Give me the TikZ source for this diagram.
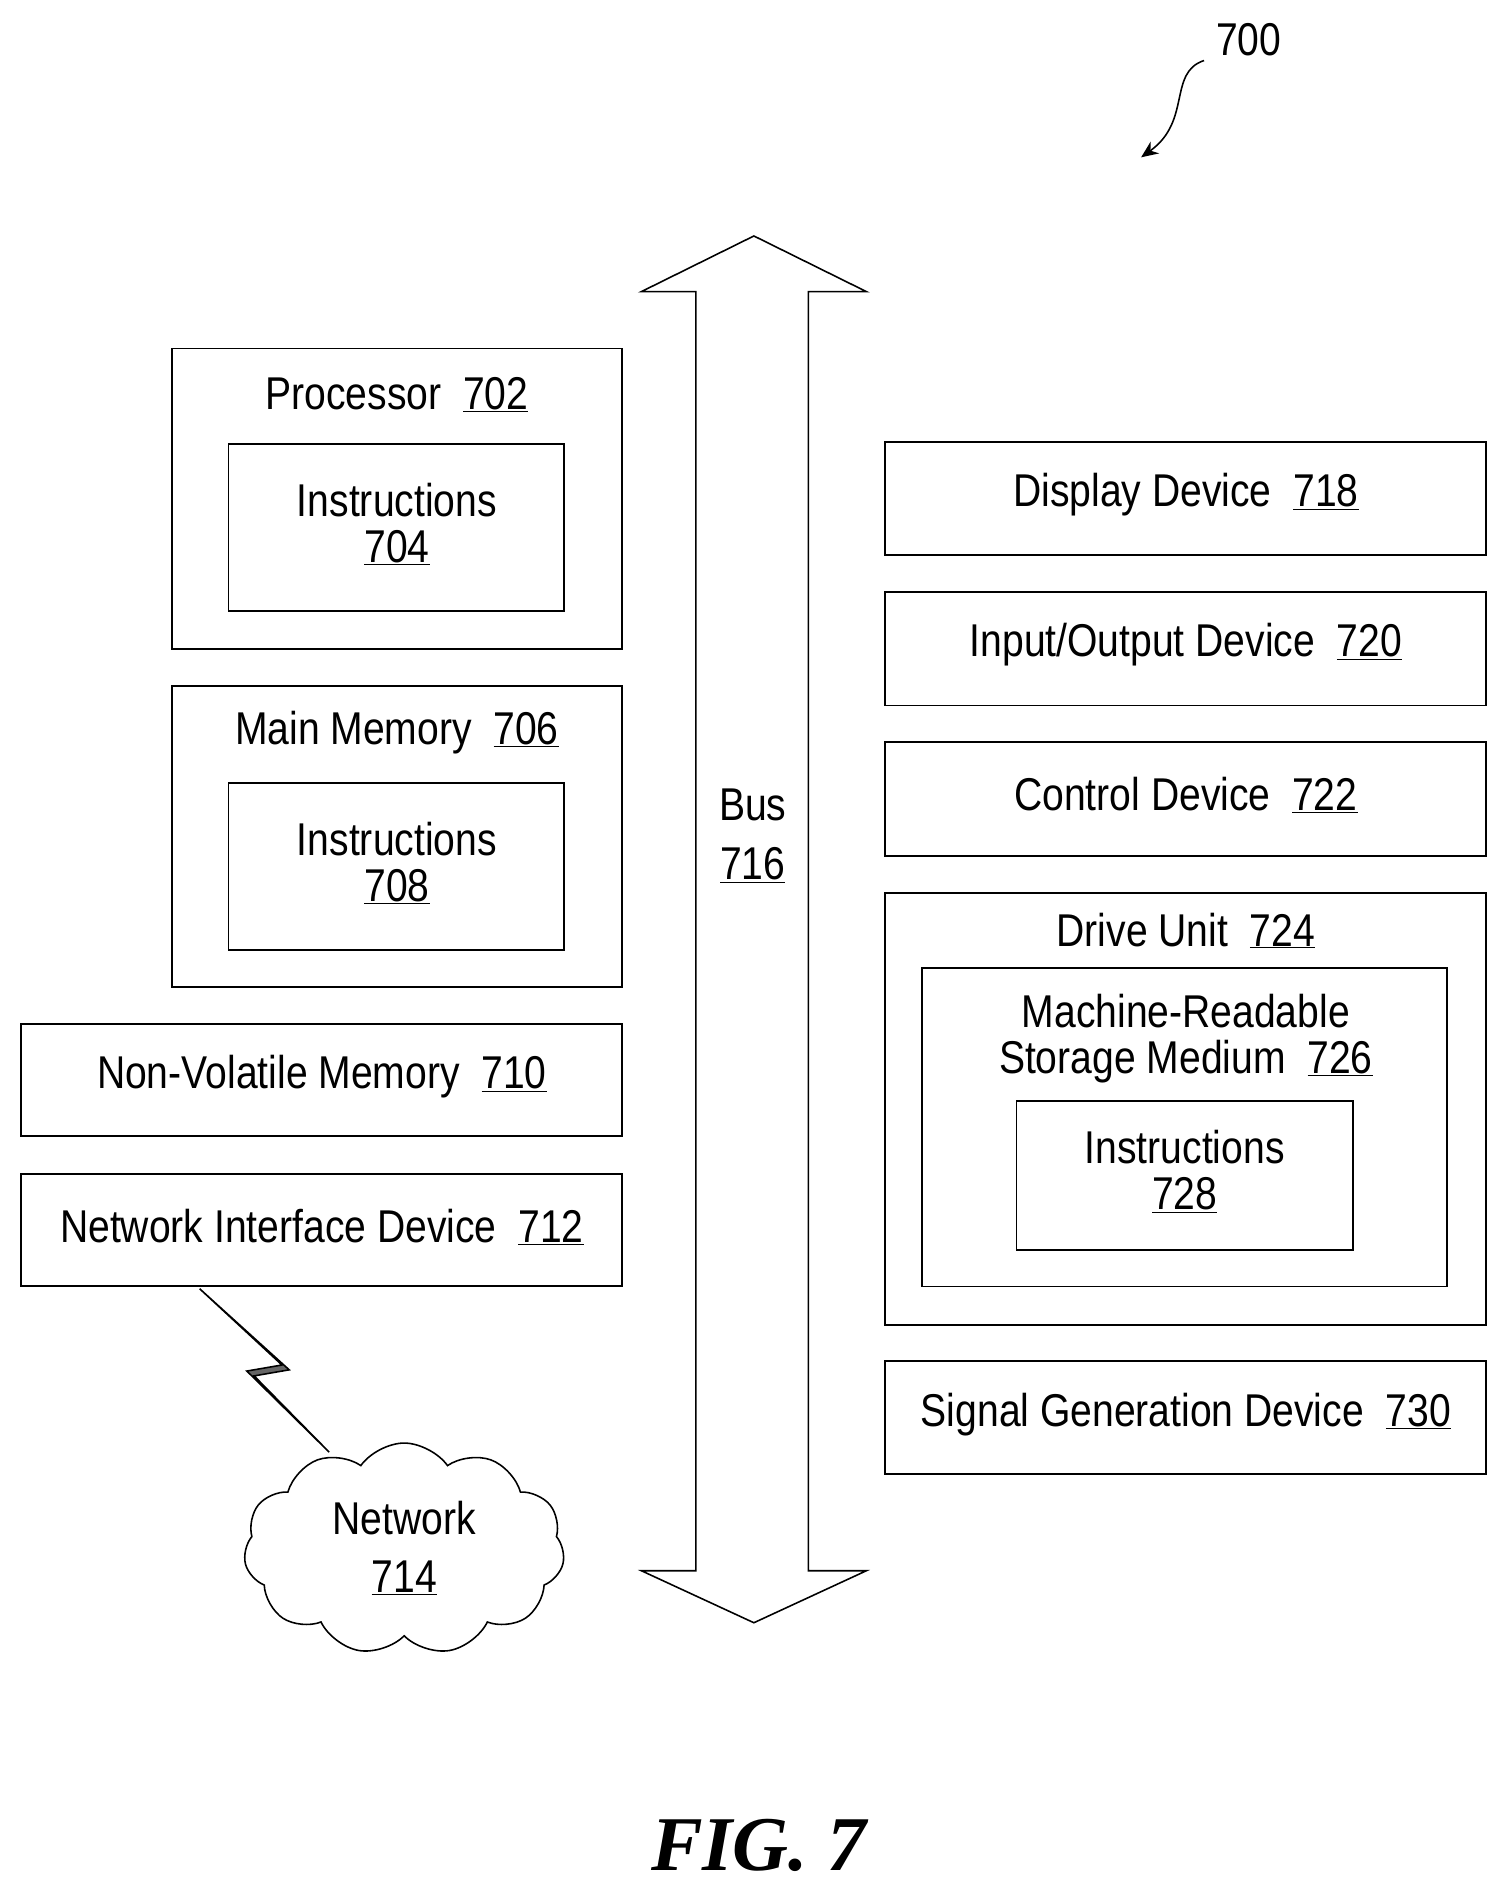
\documentclass[tikz,border=0pt]{standalone}
\usepackage{fontspec}
\setmainfont{Liberation Sans}[FakeStretch=0.85]
\newfontfamily\figfont{Liberation Serif}
\usetikzlibrary{shapes.symbols,arrows.meta}
\begin{document}
\begin{tikzpicture}[x=1pt,y=-1pt,
  box/.style={draw,line width=1.6pt},
  inbox/.style={draw,line width=1.3pt},
  lab/.style={font=\fontsize{38}{40}\selectfont,align=center,inner sep=0pt}]
\useasboundingbox (0,0) rectangle (1245,1566);
% 700
\node[lab] (n700) at (1032,33) {700};
\coordinate (a1) at (995,50);
\coordinate (a2) at (943,130);
\draw[line width=1.3pt,-{Stealth[length=14pt,width=12pt]}] (a1) .. controls (965,60) and (985,100) .. (a2);
% Bus
\draw[line width=1.3pt] (575,1298) -- (575,241) -- (530,241) -- (623,195) -- (716,241) -- (668,241) -- (668,1298) -- (716,1298) -- (623,1341) -- (530,1298) -- cycle;
\node[lab] (bus) at (622,665) {Bus};
\node[lab] (bus2) at (622,715) {\underline{716}};
% left
\draw[box] (142,288) rectangle (514,536);
\node[lab] (p) at (328,326) {Processor\ \ \underline{702}};
\draw[inbox] (189,367) rectangle (466,505);
\node[lab] (i704) at (328,433) {Instructions\\[-2pt]\underline{704}};
\draw[box] (142,567) rectangle (514,816);
\node[lab] (mm) at (328,605) {Main Memory\ \ \underline{706}};
\draw[inbox] (189,647) rectangle (466,785);
\node[lab] (i708) at (328,713) {Instructions\\[-2pt]\underline{708}};
\draw[box] (17,846) rectangle (514,939);
\node[lab] (nv) at (266,890) {Non-Volatile Memory\ \ \underline{710}};
\draw[box] (17,970) rectangle (514,1063);
\node[lab] (nid) at (266,1014) {Network Interface Device\ \ \underline{712}};
% lightning
\coordinate (l0) at (165,1065);
\coordinate (l3) at (272,1200);
\draw[line width=1.3pt,fill=black!60] (l0) -- (239,1132) -- (210,1137) -- (l3) -- (204,1133) -- (233,1128) -- cycle;
% cloud
\node[draw,line width=1.3pt,cloud,cloud puffs=11,cloud puff arc=110,minimum width=265pt,minimum height=175pt,aspect=1.3] (cl) at (334,1280) {};
\node[lab] (net) at (334,1279) {Network\\[8pt]\underline{714}};
% right
\draw[box] (731,365) rectangle (1228,459);
\node[lab] (d) at (980,409) {Display Device\ \ \underline{718}};
\draw[box] (731,489) rectangle (1228,583);
\node[lab] (io) at (980,533) {Input/Output Device\ \ \underline{720}};
\draw[box] (731,613) rectangle (1228,707);
\node[lab] (cd) at (980,657) {Control Device\ \ \underline{722}};
\draw[box] (731,738) rectangle (1228,1095);
\node[lab] (du) at (980,769) {Drive Unit\ \ \underline{724}};
\draw[inbox] (762,800) rectangle (1196,1063);
\node[lab] (ms) at (980,858) {Machine-Readable\\[-2pt]Storage Medium\ \ \underline{726}};
\draw[inbox] (840,910) rectangle (1118,1033);
\node[lab] (i728) at (979,968) {Instructions\\[-2pt]\underline{728}};
\draw[box] (731,1125) rectangle (1228,1218);
\node[lab] (sg) at (980,1169) {Signal Generation Device\ \ \underline{730}};
% fig
\node[font=\figfont\bfseries\itshape\fontsize{64}{66}\selectfont] (fig) at (627,1525) {FIG. 7};
\end{tikzpicture}
\end{document}
